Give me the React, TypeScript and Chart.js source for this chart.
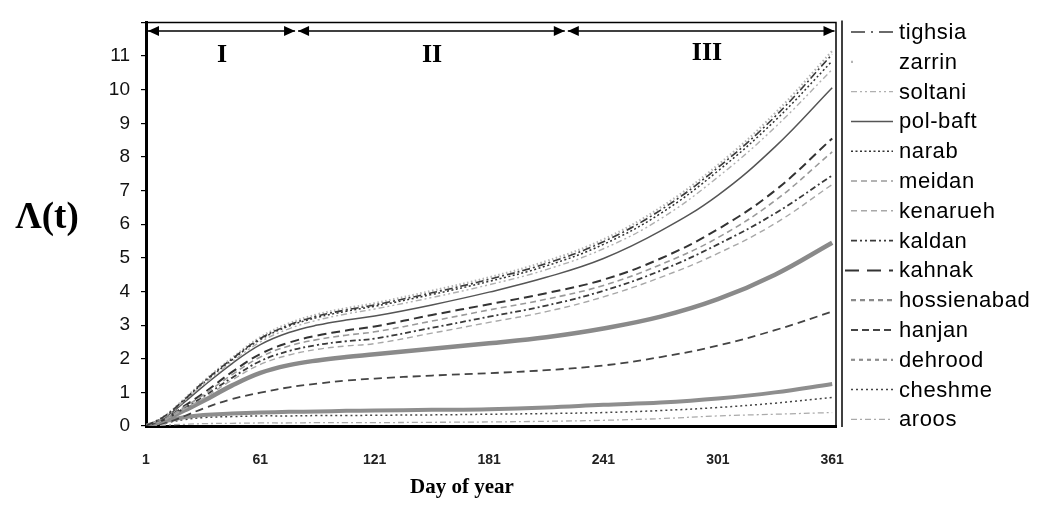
import React, { useEffect, useRef } from "react";
import { Chart, registerables } from "chart.js";

Chart.register(...registerables);

const days = [1, 11, 21, 31, 46, 61, 76, 91, 106, 121, 151, 181, 211, 241, 271, 301, 331, 361];
const xTicks = [1, 61, 121, 181, 241, 301, 361];
const yTicks = [0, 1, 2, 3, 4, 5, 6, 7, 8, 9, 10, 11];

const tighsia = [0, 0.3, 0.78, 1.3, 1.99, 2.6, 3.0, 3.27, 3.45, 3.6, 3.96, 4.36, 4.83, 5.48, 6.42, 7.68, 9.2, 11.05];
const zarrin = [0, 0.31, 0.8, 1.32, 2.02, 2.64, 3.05, 3.32, 3.5, 3.65, 4.02, 4.42, 4.9, 5.55, 6.5, 7.76, 9.3, 11.15];
const soltani = [0, 0.28, 0.74, 1.23, 1.9, 2.5, 2.89, 3.15, 3.33, 3.48, 3.82, 4.2, 4.65, 5.27, 6.16, 7.4, 8.88, 10.6];
const polBaft = [0, 0.26, 0.7, 1.18, 1.85, 2.42, 2.78, 3.0, 3.15, 3.27, 3.6, 3.98, 4.42, 4.98, 5.8, 6.86, 8.3, 10.06];
const narab = [0, 0.29, 0.76, 1.27, 1.96, 2.57, 2.97, 3.23, 3.41, 3.56, 3.91, 4.3, 4.76, 5.4, 6.32, 7.58, 9.08, 10.85];
const meidan = [0, 0.21, 0.56, 0.92, 1.52, 2.05, 2.38, 2.57, 2.7, 2.8, 3.12, 3.45, 3.77, 4.18, 4.8, 5.6, 6.7, 8.15];
const kenarueh = [0, 0.19, 0.5, 0.82, 1.36, 1.83, 2.11, 2.28, 2.38, 2.45, 2.76, 3.08, 3.4, 3.84, 4.42, 5.13, 6.02, 7.18];
const kaldan = [0, 0.2, 0.53, 0.87, 1.43, 1.93, 2.23, 2.41, 2.52, 2.6, 2.92, 3.25, 3.58, 4.02, 4.62, 5.4, 6.32, 7.45];
const kahnak = [0, 0.22, 0.59, 0.97, 1.6, 2.14, 2.48, 2.69, 2.84, 2.96, 3.3, 3.62, 3.95, 4.35, 4.98, 5.85, 7.0, 8.55];
const hossienabad = [0, 0.18, 0.46, 0.74, 1.2, 1.58, 1.81, 1.95, 2.05, 2.13, 2.3, 2.46, 2.64, 2.9, 3.25, 3.77, 4.5, 5.45];
const hanjan = [0, 0.09, 0.29, 0.52, 0.8, 0.99, 1.15, 1.26, 1.35, 1.41, 1.5, 1.57, 1.66, 1.8, 2.05, 2.39, 2.85, 3.4];
const dehrood = [0, 0.14, 0.26, 0.33, 0.37, 0.4, 0.42, 0.43, 0.45, 0.46, 0.48, 0.5, 0.55, 0.63, 0.7, 0.82, 1.0, 1.25];
const cheshme = [0, 0.09, 0.19, 0.25, 0.28, 0.3, 0.3, 0.31, 0.31, 0.32, 0.33, 0.35, 0.37, 0.4, 0.46, 0.55, 0.68, 0.85];
const aroos = [0, 0.03, 0.05, 0.07, 0.08, 0.09, 0.09, 0.1, 0.1, 0.1, 0.11, 0.12, 0.14, 0.17, 0.22, 0.3, 0.35, 0.4];

const seriesNames = ["tighsia", "zarrin", "soltani", "pol-baft", "narab", "meidan", "kenarueh", "kaldan", "kahnak", "hossienabad", "hanjan", "dehrood", "cheshme", "aroos"];
const seriesValues = [tighsia, zarrin, soltani, polBaft, narab, meidan, kenarueh, kaldan, kahnak, hossienabad, hanjan, dehrood, cheshme, aroos];

type Style = { color: string; dash: number[]; width: number; legendDash?: number[] };
const styles: Style[] = [
  { color: "#3a3a3a", dash: [8, 3, 2, 3], width: 1.6, legendDash: [14, 6, 2, 6] },
  { color: "#b4b4b4", dash: [1.5, 2.5], width: 2.2, legendDash: [2, 40] },
  { color: "#b0b0b0", dash: [6, 3, 2, 3, 2, 3], width: 1.4 },
  { color: "#555555", dash: [], width: 1.5 },
  { color: "#333333", dash: [2, 2.5], width: 1.5 },
  { color: "#9a9a9a", dash: [6, 4], width: 1.6 },
  { color: "#a8a8a8", dash: [6, 4], width: 1.4 },
  { color: "#3a3a3a", dash: [6, 3, 2, 3], width: 1.8, legendDash: [6, 3, 2, 3, 2, 3] },
  { color: "#333333", dash: [9, 5], width: 2, legendDash: [14, 8] },
  { color: "#8a8a8a", dash: [], width: 4.5, legendDash: [5, 4] },
  { color: "#444444", dash: [8, 5], width: 1.8, legendDash: [7, 4] },
  { color: "#8e8e8e", dash: [], width: 4, legendDash: [4, 4] },
  { color: "#444444", dash: [2, 3], width: 1.5 },
  { color: "#aaaaaa", dash: [6, 3, 2, 3], width: 1.3 },
];

const PLOT_LEFT = 146;
const PLOT_RIGHT = 836;
const PLOT_TOP = 10;
const PLOT_BOTTOM = 426;
const W = 1039;
const H = 505;

const overlay = {
  id: "overlay",
  afterDraw(chart: any) {
    const ctx = chart.ctx as CanvasRenderingContext2D;
    const a = chart.chartArea;
    const xs = chart.scales.x;
    ctx.save();
    ctx.strokeStyle = "#000";
    ctx.lineWidth = 1.5;
    ctx.beginPath();
    ctx.moveTo(a.left, a.top);
    ctx.lineTo(a.right, a.top);
    ctx.lineTo(a.right, a.bottom);
    ctx.stroke();
    ctx.beginPath();
    ctx.moveTo(a.right + 6, a.top - 2);
    ctx.lineTo(a.right + 6, a.bottom + 1);
    ctx.stroke();

    const ay = 31;
    const bounds = [1, 80, 221.5, xs.max];
    const head = (x: number, dir: number) => {
      ctx.beginPath();
      ctx.moveTo(x, ay);
      ctx.lineTo(x - dir * 11, ay - 5);
      ctx.lineTo(x - dir * 11, ay + 5);
      ctx.closePath();
      ctx.fill();
    };
    ctx.fillStyle = "#000";
    ctx.lineWidth = 1.3;
    for (let i = 0; i < 3; i++) {
      const x1 = xs.getPixelForValue(bounds[i]) + (i === 0 ? 2 : 1.5);
      const x2 = xs.getPixelForValue(bounds[i + 1]) - 1.5;
      ctx.beginPath();
      ctx.moveTo(x1, ay);
      ctx.lineTo(x2, ay);
      ctx.stroke();
      head(x1, -1);
      head(x2, 1);
    }
    ctx.font = "bold 26px 'Liberation Serif', 'DejaVu Serif', serif";
    ctx.textAlign = "center";
    ctx.textBaseline = "middle";
    ctx.fillText("I", 222, 55);
    ctx.fillText("II", 432, 55);
    ctx.fillText("III", 707, 53);

    ctx.font = "bold 37px 'Liberation Serif', 'DejaVu Serif', serif";
    ctx.fillText("\u039B(t)", 47, 218);
    ctx.font = "bold 21px 'Liberation Serif', 'DejaVu Serif', serif";
    ctx.fillText("Day of year", 462, 488);

    ctx.textAlign = "left";
    ctx.font = "22px 'Liberation Sans', Arial, sans-serif";
    (ctx as any).letterSpacing = "0.6px";
    seriesNames.forEach((name, i) => {
      const y = 32 + i * 29.8;
      const st = styles[i];
      ctx.strokeStyle = st.color;
      ctx.lineWidth = Math.min(st.width, 2.2);
      ctx.setLineDash(st.legendDash || st.dash);
      ctx.beginPath();
      ctx.moveTo(name === "kahnak" ? 845 : 851, y);
      ctx.lineTo(893, y);
      ctx.stroke();
      ctx.setLineDash([]);
      ctx.fillStyle = "#000";
      ctx.fillText(name, 899, y + 1);
    });
    ctx.restore();
  },
};

export default function App() {
  const ref = useRef<HTMLCanvasElement | null>(null);
  useEffect(() => {
    if (!ref.current) return;
    const datasets = seriesNames.map((name, i) => ({
      label: name,
      data: days.map((d, j) => ({ x: d, y: seriesValues[i][j] })),
      borderColor: styles[i].color,
      borderDash: styles[i].dash,
      borderWidth: styles[i].width,
      pointRadius: 0,
      fill: false,
      tension: 0.4,
    }));
    const chart = new Chart(ref.current, {
      type: "line",
      data: { datasets },
      plugins: [overlay],
      options: {
        animation: false,
        responsive: true,
        maintainAspectRatio: false,
        layout: { padding: { left: 0, top: PLOT_TOP, right: W - PLOT_RIGHT, bottom: 0 } },
        plugins: { legend: { display: false }, tooltip: { enabled: false } },
        scales: {
          x: {
            type: "linear",
            min: 1,
            max: 363,
            afterFit: (s: any) => { s.height = H - PLOT_BOTTOM; },
            afterBuildTicks: (s: any) => { s.ticks = xTicks.map((v) => ({ value: v })); },
            grid: { display: false },
            border: { display: true, color: "#000", width: 3 },
            ticks: {
              padding: 18,
              color: "#222",
              maxRotation: 0,
              autoSkip: false,
              font: { family: "'Liberation Sans Narrow', 'Liberation Sans', Arial", size: 14, weight: "bold" },
            },
          },
          y: {
            min: 0,
            max: 12,
            afterFit: (s: any) => { s.width = PLOT_LEFT; },
            afterBuildTicks: (s: any) => { s.ticks = yTicks.concat([12]).map((v) => ({ value: v })); },
            grid: { drawOnChartArea: false, drawTicks: true, tickLength: 5, color: "#000", lineWidth: 1.2 },
            border: { display: true, color: "#000", width: 3 },
            ticks: {
              padding: 11,
              color: "#111",
              autoSkip: false,
              callback: (v: any) => (yTicks.includes(Number(v)) ? String(v) : ""),
              font: { family: "'Liberation Sans', Arial", size: 19 },
            },
          },
        },
      },
    });
    return () => chart.destroy();
  }, []);
  return (
    <div style={{ position: "absolute", left: 0, top: 0, width: W, height: H, background: "#fff" }}>
      <canvas ref={ref} />
    </div>
  );
}
